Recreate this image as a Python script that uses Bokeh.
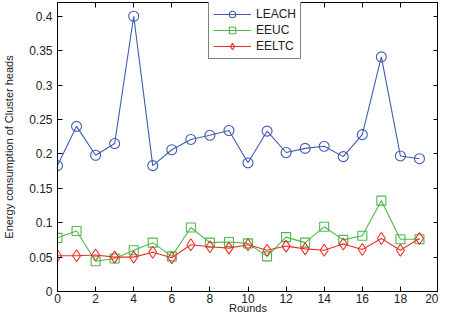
from bokeh.plotting import figure
from bokeh.models import Range1d, FixedTicker, LinearAxis
from bokeh.embed import file_html
from bokeh.resources import INLINE

rounds = list(range(20))
leach = [0.183, 0.240, 0.198, 0.215, 0.400, 0.183, 0.206, 0.221, 0.227, 0.234,
         0.187, 0.233, 0.202, 0.208, 0.211, 0.196, 0.228, 0.341, 0.197, 0.193]
eeuc = [0.078, 0.088, 0.044, 0.048, 0.060, 0.071, 0.051, 0.093, 0.071, 0.072,
        0.070, 0.051, 0.079, 0.071, 0.094, 0.075, 0.081, 0.132, 0.076, 0.076]
eeltc = [0.052, 0.052, 0.053, 0.050, 0.050, 0.057, 0.049, 0.068, 0.065, 0.063,
         0.068, 0.060, 0.066, 0.062, 0.060, 0.069, 0.061, 0.077, 0.060, 0.077]
xticks = [0, 2, 4, 6, 8, 10, 12, 14, 16, 18, 20]
yticks = [0, 0.05, 0.1, 0.15, 0.2, 0.25, 0.3, 0.35, 0.4]
ytick_labels = ["0", "0.05", "0.1", "0.15", "0.2", "0.25", "0.3", "0.35", "0.4"]

FONT = "Liberation Sans"
TXT = "#222222"

p = figure(width=438, height=316, output_backend="svg", toolbar_location=None,
           x_range=Range1d(0, 20), y_range=Range1d(0, 0.42),
           min_border_left=47, min_border_right=0, min_border_top=2, min_border_bottom=0,
           x_axis_label="Rounds", y_axis_label="Energy consumption of Cluster heads")
p.grid.visible = False
p.outline_line_color = "black"
p.outline_line_width = 1
p.background_fill_color = "white"

p.xaxis.ticker = FixedTicker(ticks=xticks)
p.yaxis.ticker = FixedTicker(ticks=yticks)
p.yaxis.major_label_overrides = {v: s for v, s in zip(yticks, ytick_labels)}

for ax in (p.xaxis[0], p.yaxis[0]):
    ax.major_tick_in = 5
    ax.major_tick_out = 0
    ax.minor_tick_line_color = None
    ax.axis_line_color = "black"
    ax.major_label_text_font = FONT
    ax.major_label_text_font_size = "12px"
    ax.major_label_text_color = TXT
    ax.axis_label_text_font = FONT
    ax.axis_label_text_font_size = "11px"
    ax.axis_label_text_font_style = "normal"
    ax.axis_label_text_color = TXT
p.xaxis.major_label_standoff = 2
p.xaxis.axis_label_standoff = -4
p.yaxis.major_label_standoff = 5
p.yaxis.axis_label_standoff = 11

for loc, tk in (("above", xticks), ("right", yticks)):
    ax = LinearAxis(ticker=FixedTicker(ticks=tk), major_tick_in=5, major_tick_out=0,
                    minor_tick_line_color=None, major_label_standoff=0,
                    axis_label_standoff=0,
                    major_label_overrides={v: "" for v in tk},
                    major_label_text_font_size="1px",
                    axis_line_color="black")
    p.add_layout(ax, loc)

series = [
    ("LEACH", leach, "#3f5db0", "circle", 10),
    ("EEUC", eeuc, "#4db848", "square", 9),
    ("EELTC", eeltc, "#e8302a", "diamond", 12),
]
for name, vals, col, mk, sz in series:
    p.line(rounds, vals, line_color=col, line_width=1.1, legend_label=name)
    p.scatter(rounds, vals, marker=mk, size=sz, line_color=col, fill_color=None,
              line_width=1.1, legend_label=name)

lg = p.legend[0]
lg.location = (151, 232)
lg.border_line_color = "black"
lg.border_line_width = 1
lg.background_fill_color = "white"
lg.background_fill_alpha = 1
lg.label_text_font = FONT
lg.label_text_font_size = "12px"
lg.label_text_color = TXT
lg.glyph_width = 38
lg.glyph_height = 16
lg.label_height = 16
lg.label_standoff = 5
lg.spacing = 0
lg.padding = 4
lg.margin = 0

open("out.html", "w").write(file_html(p, INLINE))
